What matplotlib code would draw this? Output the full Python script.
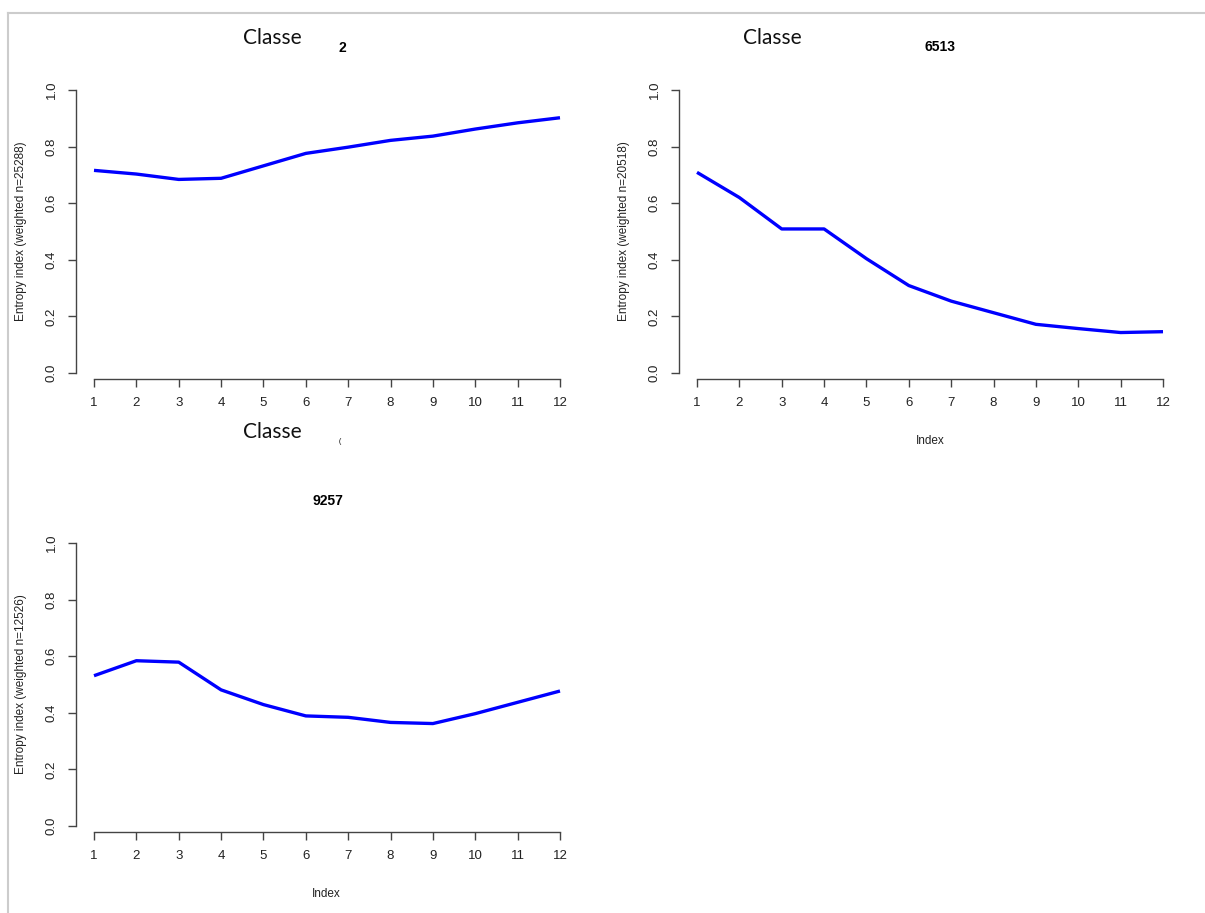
import matplotlib
matplotlib.use('Agg')
import matplotlib.pyplot as plt
from matplotlib.lines import Line2D

W, H = 1205, 913

index = list(range(1, 13))
entropy_2 = [0.716, 0.703, 0.684, 0.688, 0.732, 0.776, 0.798, 0.822, 0.837, 0.862, 0.884, 0.902]
entropy_6513 = [0.709, 0.620, 0.509, 0.509, 0.404, 0.309, 0.254, 0.213, 0.172, 0.157, 0.143, 0.146]
entropy_9257 = [0.531, 0.584, 0.579, 0.481, 0.429, 0.389, 0.384, 0.366, 0.362, 0.397, 0.437, 0.477]
yticks = [0.0, 0.2, 0.4, 0.6, 0.8, 1.0]

plt.rcParams['font.family'] = ['Liberation Sans', 'DejaVu Sans']

fig = plt.figure(figsize=(W / 100, H / 100), dpi=100)


def px(x, y):
    # pixel coords (top-left origin) -> figure fraction
    return x / W, 1 - y / H


def panel(x0, x1, y_top, y_bot, values, ylabel, title, title_xy, index_xy=None):
    left, bottom = px(x0, y_bot)
    ax = fig.add_axes([left, bottom, (x1 - x0) / W, (y_bot - y_top) / H])
    ax.plot(index, values, color='#0000ff', lw=2.4, clip_on=False, solid_capstyle='butt')
    ax.set_xlim(1, 12)
    ax.set_ylim(0, 1)
    ax.set_xticks(index)
    ax.set_yticks(yticks)
    ax.set_yticklabels(['%.1f' % t for t in yticks])
    for s in ['top', 'right']:
        ax.spines[s].set_visible(False)
    ax.spines['left'].set_position(('outward', 13))
    ax.spines['bottom'].set_position(('outward', 4.3))
    for s in ['left', 'bottom']:
        ax.spines[s].set_color('#444444')
        ax.spines[s].set_linewidth(1.0)
    ax.tick_params(length=6, width=1.0, color='#444444', labelsize=9.5,
                   labelcolor='#222222')
    ax.tick_params(axis='x', pad=7)
    ax.tick_params(axis='y', labelrotation=90, pad=7)
    for lab in ax.get_yticklabels():
        lab.set_va('center')
    ax.set_ylabel(ylabel, fontsize=8.5, color='#222222', va='center')
    ax.yaxis.set_label_coords(-73 / (x1 - x0), 0.5)
    ax.patch.set_alpha(0)
    fig.text(*px(*title_xy), title, fontsize=10, fontweight='bold',
             ha='center', va='center')
    if index_xy is not None:
        fig.text(*px(*index_xy), 'Index', fontsize=8.5, color='#222222',
                 ha='center', va='center')
    return ax


panel(94, 560, 90, 373, entropy_2, 'Entropy index (weighted n=25288)', '2', (342, 48))
panel(697, 1163, 90, 373, entropy_6513, 'Entropy index (weighted n=20518)', '6513',
      (940, 47), (930, 441))
panel(94, 560, 543, 826, entropy_9257, 'Entropy index (weighted n=12526)', '9257',
      (328, 501), (326, 894))

# overlaid "Classe" captions from the page
for x, y in [(272, 38), (772, 38), (272, 432)]:
    fig.text(*px(x, y), 'Classe', fontsize=15, family='Lato', color='#111111',
             ha='center', va='center')
fig.text(*px(340, 441), '(', fontsize=5, ha='center', va='center')

# page frame
fig.add_artist(Line2D([8 / W, 8 / W], [1 - 13 / H, 0], color='#cccccc', lw=1.5,
                      transform=fig.transFigure))
fig.add_artist(Line2D([8 / W, 1], [1 - 13 / H, 1 - 13 / H], color='#cccccc', lw=1.5,
                      transform=fig.transFigure))

fig.savefig('out.png', dpi=100)
